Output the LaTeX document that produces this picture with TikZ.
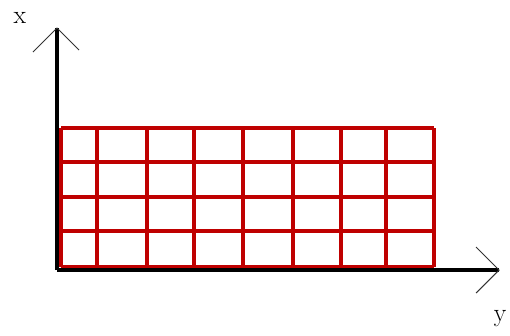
\documentclass[tikz,border=0pt]{standalone}
\usepackage{tikz}
\usetikzlibrary{calc}
\tikzset{
axisline/.style={line width=3.4pt, black},
barb/.style={line width=0.9pt, black!80},
gridline/.style={line width=2.6pt, red!75!black},
axislabel/.style={font=\fontsize{22}{24}\selectfont, inner sep=0}
}

\begin{document}
\begin{tikzpicture}[x=0.03cm, y=-0.03cm]
\useasboundingbox (0,0) rectangle (510,335);
\path (57,270) coordinate (O);
\path (57,28) coordinate (xtip);
\path (499,270) coordinate (ytip);
% grid
\foreach \r in {128,162,197,231}
  \draw[gridline] (61,\r) -- (434,\r);
\draw[gridline, line width=4pt] (61,267) -- (434,267);
\foreach \c in {61,97,147,194,243,293,341,386,434}
  \draw[gridline] (\c,128) -- (\c,267);
% axes
\draw[axisline] (O) -- (xtip);
\draw[axisline] (O) -- (ytip);
\draw[barb] ($(xtip)+(-24,24)$) -- (xtip) -- ($(xtip)+(22,22)$);
\draw[barb] ($(ytip)+(-23,-23)$) -- (ytip) -- ($(ytip)+(-23,23)$);
\node[axislabel] (xlabel) at (20,18) {x};
\node[axislabel] (ylabel) at (500,319) {y};
\end{tikzpicture}
\end{document}
